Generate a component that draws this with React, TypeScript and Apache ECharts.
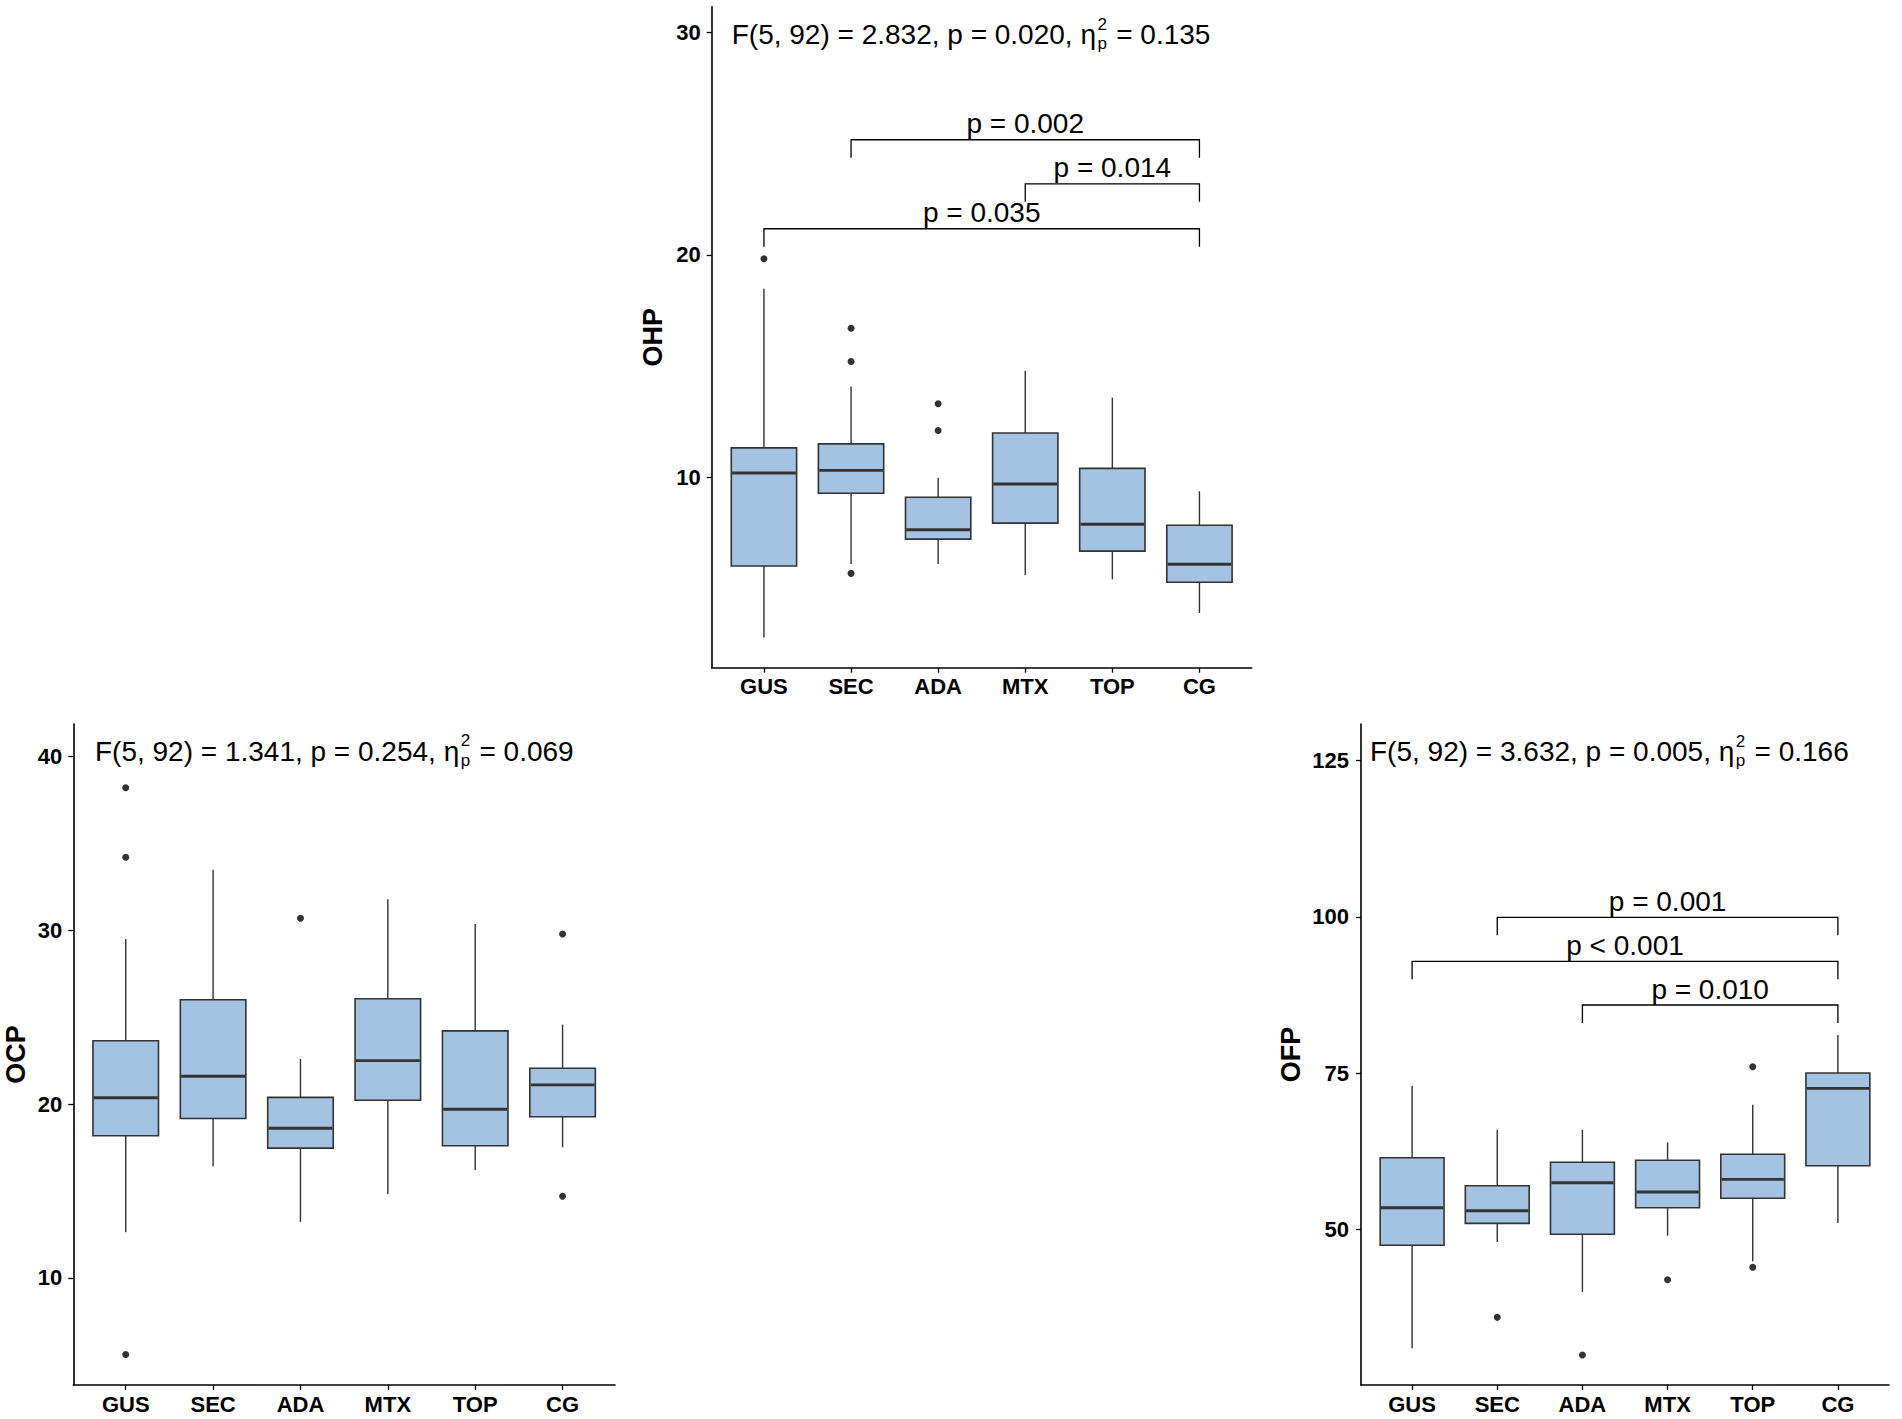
import React, { useEffect, useRef } from "react";
import * as echarts from "echarts";

const CATEGORIES = ["GUS", "SEC", "ADA", "MTX", "TOP", "CG"];

// boxes: [lower whisker, Q1, median, Q3, upper whisker] per category
const OHP_BOXES = [
  [2.8, 6.01, 10.19, 11.32, 18.47],
  [6.1, 9.28, 10.31, 11.5, 14.08],
  [6.1, 7.22, 7.64, 9.1, 9.98],
  [5.59, 7.94, 9.7, 11.99, 14.78],
  [5.41, 6.68, 7.89, 10.4, 13.58],
  [3.9, 5.28, 6.09, 7.84, 9.37],
];
const OHP_OUTLIERS = [[1, 19.82], [2, 16.7], [2, 15.2], [2, 5.68], [3, 13.3], [3, 12.1]];
const OHP_BRACKETS = [[2, 6, 25.17], [4, 6, 23.19], [1, 6, 21.17]];
const OHP_BRACKET_LABELS = ["p = 0.002", "p = 0.014", "p = 0.035"];
const OHP_TICKS = [10, 20, 30];
const OHP_STAT = ["F(5, 92) = 2.832, p = 0.020, ", " = 0.135"];

const OCP_BOXES = [
  [12.63, 18.18, 20.37, 23.65, 29.5],
  [16.43, 19.18, 21.61, 26.01, 33.49],
  [13.23, 17.47, 18.62, 20.39, 22.6],
  [14.82, 20.23, 22.51, 26.07, 31.79],
  [16.22, 17.61, 19.71, 24.22, 30.37],
  [17.52, 19.28, 21.11, 22.07, 24.58],
];
const OCP_OUTLIERS = [[1, 38.21], [1, 34.21], [1, 5.6], [3, 30.7], [6, 29.79], [6, 14.7]];
const OCP_TICKS = [10, 20, 30, 40];
const OCP_STAT = ["F(5, 92) = 1.341, p = 0.254, ", " = 0.069"];

const OFP_BOXES = [
  [31.05, 47.51, 53.51, 61.5, 73.01],
  [48.03, 51.02, 53.04, 57.03, 65.98],
  [40.05, 49.27, 57.51, 60.77, 65.98],
  [49.04, 53.51, 56.02, 61.09, 63.96],
  [44.95, 55.02, 58.05, 62.05, 69.97],
  [51.07, 60.23, 72.59, 75.04, 81.11],
];
const OFP_OUTLIERS = [[2, 36.0], [3, 29.98], [4, 42.01], [5, 76.04], [5, 43.99]];
const OFP_BRACKETS = [[2, 6, 99.91], [1, 6, 92.88], [3, 6, 85.9]];
const OFP_BRACKET_LABELS = ["p = 0.001", "p < 0.001", "p = 0.010"];
const OFP_TICKS = [50, 75, 100, 125];
const OFP_STAT = ["F(5, 92) = 3.632, p = 0.005, ", " = 0.166"];

const FONT_FAMILY = '"Liberation Sans", Arial, Helvetica, sans-serif';
const MAIN_FONT = `28px ${FONT_FAMILY}`;
const SMALL_FONT = `17px ${FONT_FAMILY}`;
const BOX_FILL = "#a4c2e2";
const DARK = "#333333";
const TIP = 18;

let measureCtx: CanvasRenderingContext2D | null = null;
function measure(text: string, font: string): number {
  if (!measureCtx) measureCtx = document.createElement("canvas").getContext("2d");
  if (!measureCtx) return text.length * 14;
  measureCtx.font = font;
  return measureCtx.measureText(text).width;
}

function textStyle(text: string, x: number, y: number, font: string, align: string) {
  return {
    text,
    x,
    y,
    font,
    fill: "#000",
    align,
    verticalAlign: "middle",
    textAlign: align,
    textVerticalAlign: "middle",
  };
}

type Panel = {
  name: string;
  grid: { left: number; top: number; width: number; height: number };
  yMin: number;
  yMax: number;
  ticks: number[];
  boxes: number[][];
  outliers: number[][];
  brackets: number[][];
  bracketLabels: string[];
  stat: string[];
  statAnchor: number[];
  nameGap: number;
  labelMargin: number;
};

const PANELS: Panel[] = [
  {
    name: "OHP",
    grid: { left: 711.7, top: 6.7, width: 540, height: 661 },
    yMin: 1.44,
    yMax: 31.15,
    ticks: OHP_TICKS,
    boxes: OHP_BOXES,
    outliers: OHP_OUTLIERS,
    brackets: OHP_BRACKETS,
    bracketLabels: OHP_BRACKET_LABELS,
    stat: OHP_STAT,
    statAnchor: [0.63, 29.89],
    nameGap: 45,
    labelMargin: 11,
  },
  {
    name: "OCP",
    grid: { left: 73.3, top: 724, width: 541.7, height: 661 },
    yMin: 3.84,
    yMax: 41.88,
    ticks: OCP_TICKS,
    boxes: OCP_BOXES,
    outliers: OCP_OUTLIERS,
    brackets: [],
    bracketLabels: [],
    stat: OCP_STAT,
    statAnchor: [0.648, 40.31],
    nameGap: 44,
    labelMargin: 11,
  },
  {
    name: "OFP",
    grid: { left: 1361, top: 724, width: 528, height: 661 },
    yMin: 25.19,
    yMax: 130.8,
    ticks: OFP_TICKS,
    boxes: OFP_BOXES,
    outliers: OFP_OUTLIERS,
    brackets: OFP_BRACKETS,
    bracketLabels: OFP_BRACKET_LABELS,
    stat: OFP_STAT,
    statAnchor: [0.506, 126.37],
    nameGap: 57,
    labelMargin: 12,
  },
];

function buildOption() {
  const grids: any[] = [];
  const xAxes: any[] = [];
  const yAxes: any[] = [];
  const series: any[] = [];
  const axisLineStyle = { color: "#000", width: 1.6 };
  const catPositions = CATEGORIES.map((_, i) => i + 1);

  PANELS.forEach((p, i) => {
    grids.push({ ...p.grid, containLabel: false });
    xAxes.push({
      type: "value",
      gridIndex: i,
      min: 0.4,
      max: 6.6,
      axisLine: { show: true, onZero: false, lineStyle: axisLineStyle },
      axisTick: { show: true, length: 5, customValues: catPositions, lineStyle: { color: "#000", width: 1.3 } },
      axisLabel: {
        show: true,
        customValues: catPositions,
        formatter: (v: number) => CATEGORIES[Math.round(v) - 1] ?? "",
        margin: 8,
        color: "#000",
        fontSize: 22,
        fontWeight: "bold",
        fontFamily: FONT_FAMILY,
      },
      splitLine: { show: false },
    });
    yAxes.push({
      type: "value",
      gridIndex: i,
      min: p.yMin,
      max: p.yMax,
      name: p.name,
      nameLocation: "middle",
      nameGap: p.nameGap,
      nameTextStyle: { color: "#000", fontSize: 27, fontWeight: "bold", fontFamily: FONT_FAMILY },
      axisLine: { show: true, onZero: false, lineStyle: axisLineStyle },
      axisTick: { show: true, length: 5, customValues: p.ticks, lineStyle: { color: "#000", width: 1.3 } },
      axisLabel: {
        show: true,
        customValues: p.ticks,
        margin: p.labelMargin,
        color: "#000",
        fontSize: 22,
        fontWeight: "bold",
        fontFamily: FONT_FAMILY,
      },
      splitLine: { show: false },
    });

    // boxes
    series.push({
      type: "custom",
      xAxisIndex: i,
      yAxisIndex: i,
      silent: true,
      encode: { x: 0, y: [1, 2, 3, 4, 5] },
      data: p.boxes.map((b, k) => [k + 1, ...b]),
      renderItem: (params: any, api: any) => {
        const x = api.value(0);
        const lo = api.coord([x, api.value(1)]);
        const q1 = api.coord([x, api.value(2)]);
        const med = api.coord([x, api.value(3)]);
        const q3 = api.coord([x, api.value(4)]);
        const hi = api.coord([x, api.value(5)]);
        const w = api.size([0.75, 0])[0];
        const cx = lo[0];
        const lineStyle = { stroke: DARK, lineWidth: 1.4 };
        return {
          type: "group",
          children: [
            { type: "line", shape: { x1: cx, y1: hi[1], x2: cx, y2: q3[1] }, style: lineStyle },
            { type: "line", shape: { x1: cx, y1: q1[1], x2: cx, y2: lo[1] }, style: lineStyle },
            {
              type: "rect",
              shape: { x: cx - w / 2, y: q3[1], width: w, height: q1[1] - q3[1] },
              style: { fill: BOX_FILL, stroke: DARK, lineWidth: 1.6 },
            },
            {
              type: "line",
              shape: { x1: cx - w / 2 + 0.8, y1: med[1], x2: cx + w / 2 - 0.8, y2: med[1] },
              style: { stroke: DARK, lineWidth: 2.9 },
            },
          ],
        };
      },
      z: 2,
    });

    // outliers
    series.push({
      type: "scatter",
      xAxisIndex: i,
      yAxisIndex: i,
      silent: true,
      symbol: "circle",
      symbolSize: 7,
      itemStyle: { color: DARK, opacity: 1 },
      data: p.outliers,
      z: 3,
    });

    // brackets
    if (p.brackets.length) {
      const labels = p.bracketLabels;
      series.push({
        type: "custom",
        xAxisIndex: i,
        yAxisIndex: i,
        silent: true,
        encode: { x: [0, 1], y: 2 },
        data: p.brackets,
        renderItem: (params: any, api: any) => {
          const a = api.coord([api.value(0), api.value(2)]);
          const b = api.coord([api.value(1), api.value(2)]);
          return {
            type: "group",
            children: [
              {
                type: "polyline",
                shape: { points: [[a[0], a[1] + TIP], [a[0], a[1]], [b[0], b[1]], [b[0], b[1] + TIP]] },
                style: { stroke: "#000", lineWidth: 1.3, fill: "none" },
              },
              {
                type: "text",
                style: textStyle(labels[params.dataIndex], (a[0] + b[0]) / 2, a[1] - 16, MAIN_FONT, "center"),
              },
            ],
          };
        },
        z: 4,
      });
    }

    // statistics annotation: F test, p value and partial eta squared (η with ² over a subscript p)
    const prefix = p.stat[0] + "\u03b7";
    const suffix = p.stat[1];
    series.push({
      type: "custom",
      xAxisIndex: i,
      yAxisIndex: i,
      silent: true,
      encode: { x: 0, y: 1 },
      data: [p.statAnchor],
      renderItem: (params: any, api: any) => {
        const pt = api.coord([api.value(0), api.value(1)]);
        const x0 = pt[0];
        const yc = pt[1];
        const wPre = measure(prefix, MAIN_FONT);
        const xs = x0 + wPre + 1.5;
        const wSS = Math.max(measure("2", SMALL_FONT), measure("p", SMALL_FONT));
        return {
          type: "group",
          children: [
            { type: "text", style: textStyle(prefix, x0, yc, MAIN_FONT, "left") },
            { type: "text", style: textStyle("2", xs, yc - 10.5, SMALL_FONT, "left") },
            { type: "text", style: textStyle("p", xs, yc + 9, SMALL_FONT, "left") },
            { type: "text", style: textStyle(suffix, xs + wSS + 1.5, yc, MAIN_FONT, "left") },
          ],
        };
      },
      z: 5,
    });
  });

  return {
    animation: false,
    backgroundColor: "#ffffff",
    grid: grids,
    xAxis: xAxes,
    yAxis: yAxes,
    series,
  };
}

export default function App() {
  const ref = useRef<HTMLDivElement>(null);
  useEffect(() => {
    document.body.style.margin = "0";
    if (!ref.current) return;
    const chart = echarts.init(ref.current, undefined, { renderer: "svg" });
    chart.setOption(buildOption() as any);
    return () => chart.dispose();
  }, []);
  return (
    <div
      ref={ref}
      style={{ position: "absolute", left: 0, top: 0, width: 1902, height: 1419, background: "#fff" }}
    />
  );
}
